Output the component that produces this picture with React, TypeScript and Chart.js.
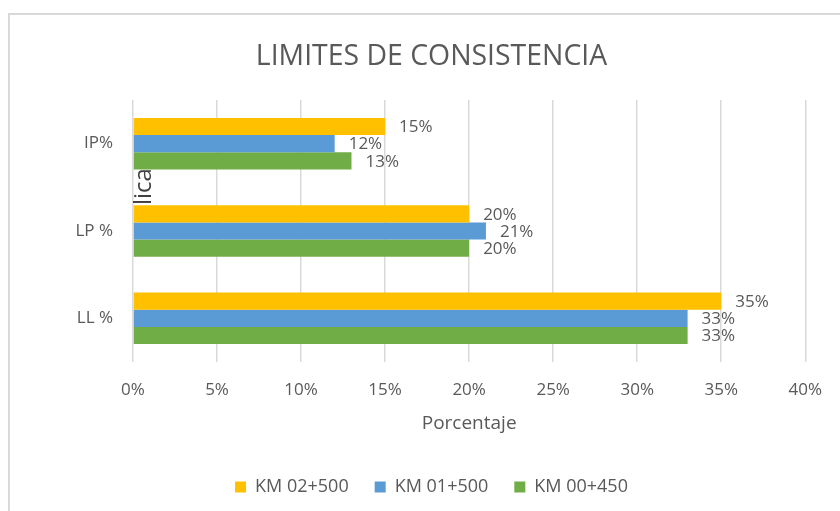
import React, { useEffect, useRef } from "react";
import { Chart, registerables } from "chart.js";

Chart.register(...registerables);

const categories = ["IP%", "LP %", "LL %"];
const seriesNames = ["KM 02+500", "KM 01+500", "KM 00+450"];
const km02500 = [15, 20, 35];
const km01500 = [12, 21, 33];
const km00450 = [13, 20, 33];
const seriesColors = ["#FFC000", "#5B9BD5", "#70AD47"];
const xTicksMax = 40;
const xTicksStep = 5;
const titleText = "LIMITES DE CONSISTENCIA";
const xTitleText = "Porcentaje";
const strayYTitle = "lica";

const FONT = "'Open Sans', 'Noto Sans', sans-serif";
const GRAY = "#595959";

const dataLabelPlugin = {
  id: "dataLabels",
  afterDatasetsDraw(chart: any) {
    const ctx = chart.ctx;
    ctx.save();
    ctx.font = `17px ${FONT}`;
    ctx.fillStyle = GRAY;
    ctx.textAlign = "left";
    ctx.textBaseline = "middle";
    chart.data.datasets.forEach((ds: any, i: number) => {
      const meta = chart.getDatasetMeta(i);
      meta.data.forEach((el: any, j: number) => {
        ctx.fillText(`${ds.data[j]}%`, el.x + 14, el.y + 1);
      });
    });
    ctx.restore();
  },
};

const strayTitlePlugin = {
  id: "strayTitle",
  beforeDatasetsDraw(chart: any) {
    const ctx = chart.ctx;
    const left = chart.chartArea.left;
    ctx.save();
    ctx.font = `24px ${FONT}`;
    ctx.fillStyle = "#404040";
    ctx.textAlign = "left";
    ctx.textBaseline = "alphabetic";
    ctx.translate(left + 18, 205);
    ctx.rotate(-Math.PI / 2);
    ctx.fillText(strayYTitle, 0, 0);
    ctx.restore();
  },
};

export default function App() {
  const ref = useRef<HTMLCanvasElement | null>(null);

  useEffect(() => {
    if (!ref.current) return;
    const values = [km02500, km01500, km00450];
    const chart = new Chart(ref.current, {
      type: "bar",
      data: {
        labels: categories,
        datasets: seriesNames.map((name, i) => ({
          label: name,
          data: values[i],
          backgroundColor: seriesColors[i],
          borderWidth: 0,
          categoryPercentage: 0.59,
          barPercentage: 1.0,
        })),
      },
      options: {
        indexAxis: "y",
        responsive: false,
        animation: false,
        layout: { padding: { left: 56, right: 33, top: 0, bottom: 5 } },
        plugins: {
          title: {
            display: true,
            text: titleText,
            color: GRAY,
            font: { family: FONT, size: 28.4, weight: "normal", lineHeight: 1.2 },
            padding: { top: 40, bottom: 25.9 },
          },
          legend: {
            display: true,
            position: "bottom",
            labels: {
              color: GRAY,
              font: { family: FONT, size: 18 },
              boxWidth: 11,
              boxHeight: 11,
              padding: 26,
            },
          },
          tooltip: { enabled: false },
        },
        scales: {
          x: {
            min: 0,
            max: xTicksMax,
            ticks: {
              stepSize: xTicksStep,
              color: GRAY,
              font: { family: FONT, size: 17, lineHeight: 1.2 },
              padding: 18,
              callback: (v: any) => `${v}%`,
            },
            grid: { color: "#D9D9D9", lineWidth: 1.5, drawTicks: false },
            border: { display: false },
            title: {
              display: true,
              text: xTitleText,
              color: GRAY,
              font: { family: FONT, size: 19, lineHeight: 1.2 },
              padding: { top: -5.8, bottom: 16.6 },
            },
          },
          y: {
            grid: { display: false, drawTicks: false },
            border: { display: false },
            ticks: {
              color: GRAY,
              font: { family: FONT, size: 17 },
              padding: 20,
            },
            afterFit: (scale: any) => {
              scale.width = 77;
            },
          },
        },
      },
      plugins: [strayTitlePlugin, dataLabelPlugin],
    } as any);
    return () => chart.destroy();
  }, []);

  return (
    <div
      style={{
        position: "fixed",
        left: 0,
        top: 0,
        width: 840,
        height: 511,
        background: "#ffffff",
        overflow: "hidden",
      }}
    >
      <div
        style={{
          position: "absolute",
          left: 8,
          top: 13,
          width: 840,
          height: 511,
          borderTop: "2px solid #D9D9D9",
          borderLeft: "2px solid #D9D9D9",
        }}
      />
      <canvas
        ref={ref}
        width={840}
        height={511}
        style={{ position: "absolute", left: 0, top: 0, display: "block" }}
      />
    </div>
  );
}
